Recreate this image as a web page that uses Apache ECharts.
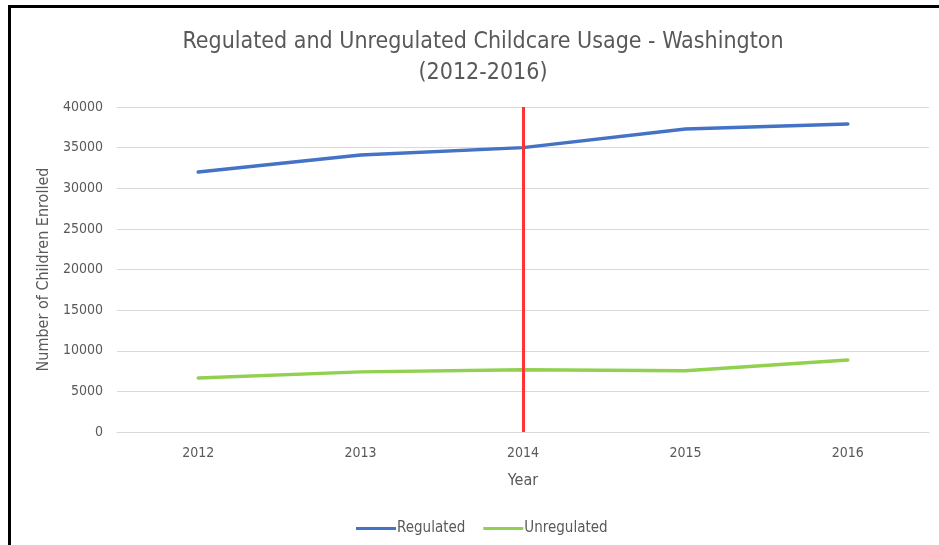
<!DOCTYPE html>
<html>
<head>
<meta charset="utf-8">
<script src="https://cdn.jsdelivr.net/npm/echarts@6/dist/echarts.min.js"></script>
<style>
  html, body { margin: 0; padding: 0; background: #fff; }
  #chart { width: 939px; height: 545px; }
</style>
</head>
<body>
<div id="chart"></div>
<script>
// Enrollment by year, Washington
const years = ['2012', '2013', '2014', '2015', '2016'];
const regulated = [32000, 34100, 35000, 37300, 37900];
const unregulated = [6650, 7400, 7650, 7550, 8850];
const markerYear = '2014';

const textColor = '#595959';
const font = 'Liberation Sans Narrow, DejaVu Sans Condensed, Open Sans, sans-serif';

const chart = echarts.init(document.getElementById('chart'));
chart.setOption({
  backgroundColor: '#fff',
  animation: false,
  title: {
    text: 'Regulated and Unregulated Childcare Usage - Washington\n(2012-2016)',
    left: 478,
    textAlign: 'center',
    top: 22,
    textStyle: { fontFamily: font, fontWeight: 'normal', fontSize: 23, color: textColor, lineHeight: 31 }
  },
  legend: {
    bottom: 4,
    left: 351,
    itemWidth: 40,
    itemHeight: 3,
    itemGap: 18,
    icon: 'rect',
    textStyle: { fontFamily: font, fontSize: 15, color: textColor, padding: [0, 0, 0, -4] },
    data: ['Regulated', 'Unregulated']
  },
  grid: { left: 117, right: 10, top: 107, bottom: 113, containLabel: false },
  xAxis: {
    type: 'category',
    data: years,
    boundaryGap: true,
    name: 'Year',
    nameLocation: 'middle',
    nameGap: 41,
    nameTextStyle: { fontFamily: font, fontSize: 16, color: textColor },
    axisLine: { lineStyle: { color: '#d9d9d9', width: 1 } },
    axisTick: { show: false },
    axisLabel: { fontFamily: font, fontSize: 14, color: textColor, margin: 14 }
  },
  yAxis: {
    type: 'value',
    min: 0,
    max: 40000,
    interval: 5000,
    name: 'Number of Children Enrolled',
    nameLocation: 'middle',
    nameGap: 62,
    nameTextStyle: { fontFamily: font, fontSize: 16, color: textColor },
    axisLine: { show: false },
    axisTick: { show: false },
    axisLabel: { fontFamily: font, fontSize: 14, color: textColor, margin: 14, formatter: v => String(v) },
    splitLine: { lineStyle: { color: '#d9d9d9', width: 1 } }
  },
  series: [
    {
      name: 'Regulated',
      type: 'line',
      data: regulated,
      showSymbol: false,
      symbol: 'none',
      lineStyle: { color: '#4472C4', width: 3.5, cap: 'round' },
      itemStyle: { color: '#4472C4' },
      markLine: {
        silent: true,
        symbol: 'none',
        label: { show: false },
        lineStyle: { color: '#ff3333', width: 3, type: 'solid' },
        data: [{ xAxis: markerYear }]
      },
      z: 3
    },
    {
      name: 'Unregulated',
      type: 'line',
      data: unregulated,
      showSymbol: false,
      symbol: 'none',
      lineStyle: { color: '#92D050', width: 3.5, cap: 'round' },
      itemStyle: { color: '#92D050' },
      z: 2
    }
  ],
  graphic: [
    { type: 'rect', shape: { x: 8, y: 5, width: 931, height: 3 }, style: { fill: '#000' }, silent: true },
    { type: 'rect', shape: { x: 8, y: 5, width: 3, height: 540 }, style: { fill: '#000' }, silent: true }
  ]
});
</script>
</body>
</html>
